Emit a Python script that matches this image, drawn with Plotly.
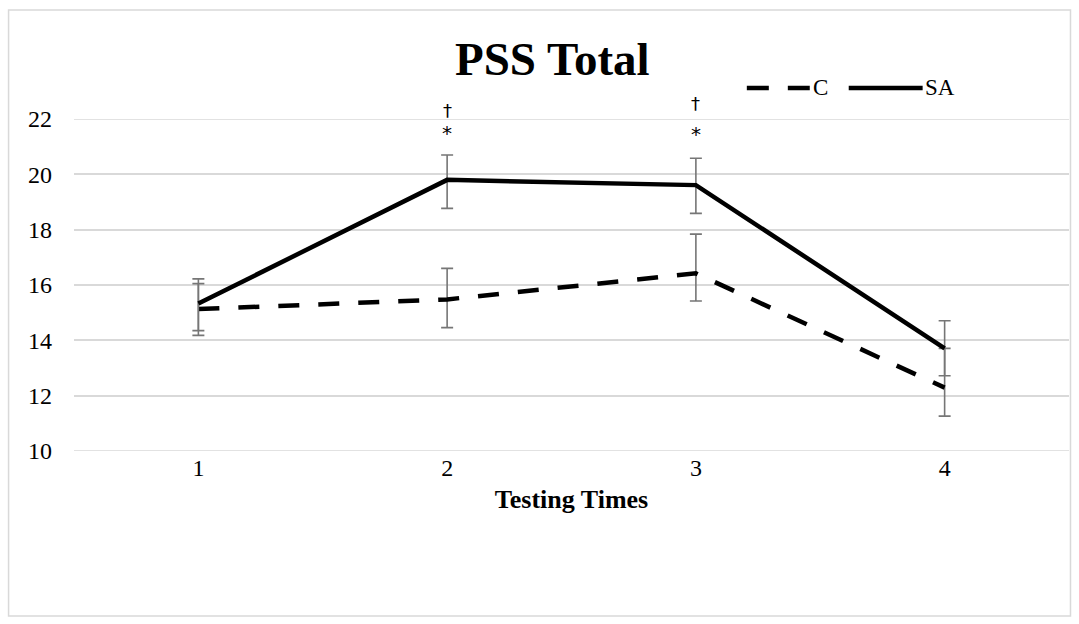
import plotly.graph_objects as go

# Testing times and group means with their error bar extents
times = [1, 2, 3, 4]
tick_labels = ["1", "2", "3", "4"]

sa_mean = [15.33, 19.80, 19.61, 13.71]
sa_err_plus = [0.89, 0.90, 0.97, 1.00]
sa_err_minus = [0.98, 1.03, 1.02, 0.99]

c_mean = [15.13, 15.48, 16.42, 12.29]
c_err_plus = [0.92, 1.12, 1.42, 1.42]
c_err_minus = [0.95, 1.02, 1.00, 1.03]

# Significance markers: (time, symbol, value-scale height of the glyph centre)
sig_marks = [(2, "†", 22.32), (2, "*", 21.50), (3, "†", 22.57), (3, "*", 21.45)]

SERIF = "Liberation Serif, Times New Roman, serif"
SYMBOL_FONT = "DejaVu Sans, sans-serif"
ERR_COLOR = "#767676"
GRID = "#d9d9d9"

Y_MIN, Y_MAX = 10, 22
X_MIN, X_MAX = 0.5, 4.5

fig = go.Figure()

fig.add_trace(go.Scatter(
    x=times, y=c_mean, mode="lines", name="C",
    line=dict(color="black", width=4.5, dash="21px,19px"),
    error_y=dict(type="data", symmetric=False, array=c_err_plus,
                 arrayminus=c_err_minus, color=ERR_COLOR, thickness=1.6, width=6),
))
fig.add_trace(go.Scatter(
    x=times, y=sa_mean, mode="lines", name="SA",
    line=dict(color="black", width=4.5),
    error_y=dict(type="data", symmetric=False, array=sa_err_plus,
                 arrayminus=sa_err_minus, color=ERR_COLOR, thickness=1.6, width=6),
))

# Plot area spans 73.5..1069.5 px horizontally and 119..451 px vertically
L, R, T, B = 73.5, 1069.5, 119.0, 451.0
W, H = R - L, B - T


def px(xp):
    return (xp - L) / W


def py(yp):
    return (B - yp) / H


def data_to_paper_x(v):
    return (v - X_MIN) / (X_MAX - X_MIN)


def data_to_paper_y(v):
    return (v - Y_MIN) / (Y_MAX - Y_MIN)


# Markers sit above the plotting range, so they are placed in paper space
for t, sym, yv in sig_marks:
    is_star = sym == "*"
    fig.add_annotation(x=data_to_paper_x(t), y=data_to_paper_y(yv), xref="paper", yref="paper",
                       text=sym, showarrow=False,
                       font=dict(family=SYMBOL_FONT, size=20 if is_star else 18, color="black"),
                       xanchor="center", yanchor="middle")

# Title
fig.add_annotation(x=px(552.5), y=py(59), xref="paper", yref="paper", text="<b>PSS Total</b>",
                   showarrow=False, font=dict(family=SERIF, size=47, color="black"),
                   xanchor="center", yanchor="middle")

# Legend drawn as line samples with labels
leg_y = py(88)
fig.add_shape(type="line", xref="paper", yref="paper", x0=px(747), x1=px(810),
              y0=leg_y, y1=leg_y, line=dict(color="black", width=4.5, dash="22px,19px"))
fig.add_annotation(x=px(811), y=leg_y, xref="paper", yref="paper", text="C", showarrow=False,
                   font=dict(family=SERIF, size=23, color="black"), xanchor="left", yanchor="middle")
fig.add_shape(type="line", xref="paper", yref="paper", x0=px(849), x1=px(923),
              y0=leg_y, y1=leg_y, line=dict(color="black", width=4.5))
fig.add_annotation(x=px(923), y=leg_y, xref="paper", yref="paper", text="SA", showarrow=False,
                   font=dict(family=SERIF, size=23, color="black"), xanchor="left", yanchor="middle")

# Gridlines at the ends of the value range
for v in (Y_MIN, Y_MAX):
    fig.add_shape(type="line", xref="paper", yref="y", x0=0, x1=1, y0=v, y1=v,
                  line=dict(color=GRID, width=1.5), layer="below")

# Light outer frame of the chart area
fig.add_shape(type="rect", xref="paper", yref="paper", x0=px(8), x1=px(1071),
              y0=py(616), y1=py(10), line=dict(color=GRID, width=1.5), layer="below")

fig.update_layout(
    width=1079, height=624,
    margin=dict(l=L, r=1079 - R, t=T, b=624 - B),
    paper_bgcolor="white", plot_bgcolor="white",
    showlegend=False,
    font=dict(family=SERIF, color="black"),
    xaxis=dict(
        range=[X_MIN, X_MAX], tickvals=times, ticktext=tick_labels,
        showgrid=False, zeroline=False, showline=False, ticks="",
        tickfont=dict(family=SERIF, size=24, color="black"),
        title=dict(text="<b>Testing Times</b>", font=dict(family=SERIF, size=26, color="black"),
                   standoff=9),
    ),
    yaxis=dict(
        range=[Y_MIN, Y_MAX], dtick=2, tick0=10,
        showgrid=True, gridcolor=GRID, gridwidth=1.5,
        zeroline=False, showline=False, ticks="",
        ticklabelstandoff=21,
        tickfont=dict(family=SERIF, size=24, color="black"),
    ),
)

fig.write_html("out.html")
